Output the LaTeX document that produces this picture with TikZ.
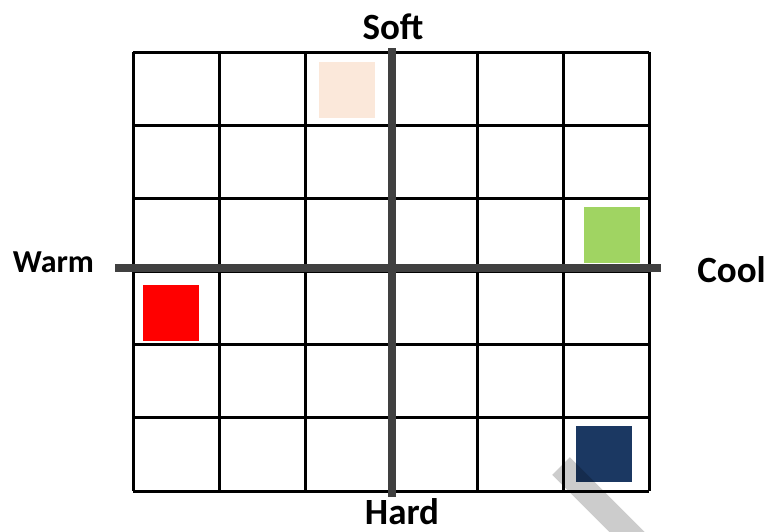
\documentclass[tikz,border=0pt]{standalone}
\usepackage{fontspec}
\setmainfont{Carlito}
\usepackage{tikz}
\usetikzlibrary{positioning}

\definecolor{peach}{HTML}{FBE8DA}
\definecolor{leaf}{HTML}{A0D462}
\definecolor{navy}{HTML}{1B3862}
\definecolor{axisgray}{HTML}{404040}

\begin{document}
\begin{tikzpicture}[
    x=1pt, y=-1pt,
    gridline/.style={draw=black, line width=3pt},
    axisline/.style={draw=axisgray, line width=7.5pt},
    label/.style={font=\fontsize{37}{40}\selectfont\bfseries, anchor=base, inner sep=0pt},
    swatch/.style={rectangle, minimum size=56pt, inner sep=0pt, anchor=north west},
]
\useasboundingbox (0,0) rectangle (768,531);

% swatches
\node[swatch, fill=peach] (soft) at (319,62) {};
\node[swatch, fill=leaf] (cool) at (584,207) {};
\node[swatch, fill=red] (warm) at (143,285) {};
\node[swatch, fill=navy] (hard) at (576,426) {};

% grid
\foreach \i in {0,...,6} {
  \draw[gridline] (133+86*\i,52) -- (133+86*\i,491);
  \draw[gridline] (133,52+73.17*\i) -- (649,52+73.17*\i);
}

% axes
\coordinate (top) at (392,48);
\coordinate (bottom) at (392,497);
\coordinate (left) at (115,268);
\coordinate (right) at (661,268);
\draw[axisline] (top) -- (bottom);
\draw[axisline] (left) -- (right);

% labels
\node[label] (lsoft) at (393,39) {Soft};
\node[label] (lhard) at (402,524) {Hard};
\node[label, font=\fontsize{32}{35}\selectfont\bfseries] (lwarm) at (53.5,272) {Warm};
\node[label] (lcool) at (731.5,282) {Cool};

% stroke
\coordinate (s1) at (561,466);
\coordinate (s2) at (645,550);
\draw[black, opacity=0.2, line width=25pt] (s1) -- (s2);
\end{tikzpicture}
\end{document}
